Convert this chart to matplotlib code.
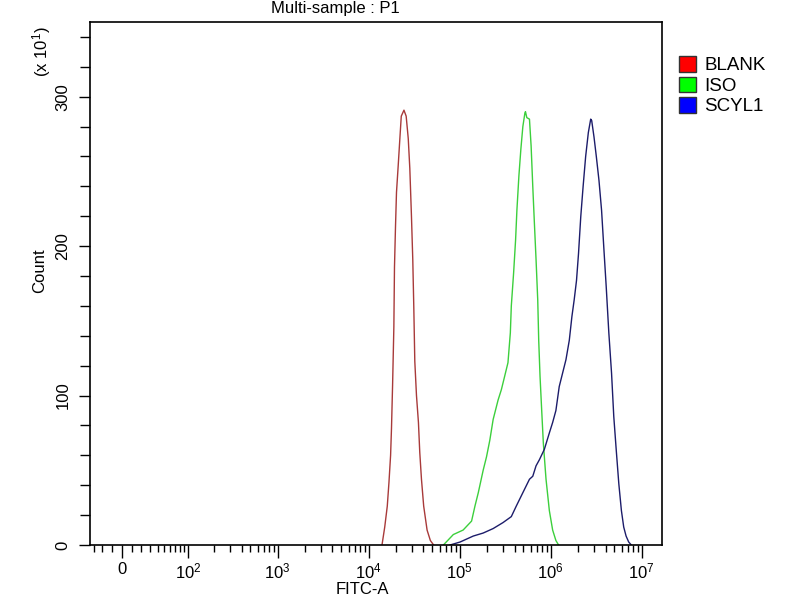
import numpy as np
import matplotlib
matplotlib.use("Agg")
import matplotlib.pyplot as plt
from matplotlib.patches import Patch
from matplotlib.ticker import FixedLocator, FixedFormatter

plt.rcParams["font.family"] = ["Liberation Sans", "DejaVu Sans"]
plt.rcParams["mathtext.fontset"] = "custom"
plt.rcParams["mathtext.rm"] = "Liberation Sans"

# histogram outlines (FITC-A value, count)
blank_x = [1.40e4, 1.50e4, 1.60e4, 1.67e4, 1.74e4, 1.78e4, 1.83e4, 1.89e4, 1.92e4,
           1.97e4, 2.02e4, 2.11e4, 2.20e4, 2.28e4, 2.44e4, 2.58e4, 2.72e4, 2.83e4,
           2.95e4, 3.05e4, 3.13e4, 3.21e4, 3.35e4, 3.52e4, 3.64e4, 3.80e4, 4.02e4,
           4.38e4, 4.76e4, 5.17e4]
blank_y = [0, 12, 26, 42, 60, 78, 107, 146, 186, 213, 236, 254, 272, 287, 291,
           287, 272, 252, 220, 191, 159, 123, 100, 82, 62, 44, 26, 10, 3, 0]

iso_x = [6.62e4, 8.51e4, 1.09e5, 1.35e5, 1.47e5, 1.60e5, 1.81e5, 1.97e5, 2.14e5,
         2.33e5, 2.64e5, 2.87e5, 3.12e5, 3.39e5, 3.60e5, 3.69e5, 3.91e5, 4.11e5,
         4.25e5, 4.47e5, 4.70e5, 4.94e5, 5.20e5, 5.28e5, 5.46e5, 5.84e5, 6.09e5,
         6.35e5, 6.62e5, 6.90e5, 7.20e5, 7.38e5, 7.63e5, 7.96e5, 8.30e5, 8.88e5,
         9.66e5, 1.05e6, 1.14e6, 1.22e6]
iso_y = [0, 7, 10, 16, 26, 35, 50, 59, 70, 84, 97, 104, 113, 122, 142, 160, 182,
         204, 224, 247, 265, 280, 289, 290, 286, 285, 267, 240, 215, 191, 164, 137,
         113, 90, 68, 44, 23, 10, 3, 0]

scyl1_x = [7.83e4, 1.01e5, 1.41e5, 1.81e5, 2.33e5, 2.99e5, 3.69e5, 4.18e5, 4.94e5,
           5.84e5, 6.35e5, 6.90e5, 7.50e5, 8.51e5, 9.66e5, 1.05e6, 1.14e6, 1.24e6,
           1.35e6, 1.47e6, 1.60e6, 1.71e6, 1.81e6, 1.92e6, 2.02e6, 2.14e6, 2.27e6,
           2.42e6, 2.59e6, 2.75e6, 2.82e6, 2.99e6, 3.17e6, 3.39e6, 3.62e6, 3.84e6,
           4.07e6, 4.35e6, 4.66e6, 4.93e6, 5.24e6, 5.60e6, 5.98e6, 6.34e6, 6.73e6,
           7.19e6, 7.69e6]
scyl1_y = [0, 2, 6, 8, 11, 15, 19, 26, 35, 44, 46, 53, 57, 64, 75, 82, 90, 106,
           115, 124, 137, 153, 164, 177, 195, 220, 240, 260, 276, 285, 284, 273,
           260, 244, 224, 198, 173, 142, 115, 86, 64, 41, 23, 12, 6, 2, 0]

labels = ["BLANK", "ISO", "SCYL1"]
line_colors = ["#a83a3a", "#3ccf3c", "#1c1c6a"]
box_colors = ["#ff0000", "#00ff00", "#0000ff"]

major_ticks = [0, 1e2, 1e3, 1e4, 1e5, 1e6, 1e7]
major_labels = ["0", r"$\mathregular{10^2}$", r"$\mathregular{10^3}$",
                r"$\mathregular{10^4}$", r"$\mathregular{10^5}$",
                r"$\mathregular{10^6}$", r"$\mathregular{10^7}$"]

W = 38.9


def fwd(x):
    return np.arcsinh(np.asarray(x) / W) / np.log(10)


def inv(y):
    return W * np.sinh(np.asarray(y) * np.log(10))


def main():
    fig = plt.figure(figsize=(8, 6), dpi=100)
    ax = fig.add_axes([90 / 800, 1 - 545 / 600, 572 / 800, 523 / 600])
    ax.set_xscale("function", functions=(fwd, inv))

    for xs, ys, c in zip([blank_x, iso_x, scyl1_x], [blank_y, iso_y, scyl1_y], line_colors):
        ax.plot(xs, ys, color=c, lw=1.0)

    ax.set_xlim(-35, 1.67e7)
    ax.set_ylim(0, 350)

    minor = [-30, -20, -10] + list(range(10, 100, 10))
    for dec in range(2, 7):
        minor += [k * 10 ** dec for k in range(2, 10)]
    ax.xaxis.set_major_locator(FixedLocator(major_ticks))
    ax.xaxis.set_major_formatter(FixedFormatter(major_labels))
    ax.xaxis.set_minor_locator(FixedLocator(minor))
    ax.yaxis.set_major_locator(FixedLocator([0, 100, 200, 300]))
    ax.yaxis.set_minor_locator(FixedLocator(list(range(20, 350, 20))))

    ax.tick_params(axis="x", which="major", direction="out", length=9, width=1,
                   labelsize=12, pad=3)
    ax.tick_params(axis="x", which="minor", direction="out", length=5, width=1)
    ax.tick_params(axis="y", which="major", direction="out", length=8, width=1,
                   labelsize=12, labelrotation=90, pad=6)
    ax.tick_params(axis="y", which="minor", direction="out", length=7, width=1)
    for lab in ax.get_yticklabels():
        lab.set_va("center")
    for s in ax.spines.values():
        s.set_linewidth(1.2)

    fig.text(335 / 800, 1 - 9 / 600, "Multi-sample : P1", ha="center", va="center",
             fontsize=12)
    fig.text(362 / 800, 1 - 590 / 600, "FITC-A", ha="center", va="center", fontsize=12)
    fig.text(40 / 800, 1 - 271 / 600, "Count", ha="center", va="center",
             rotation=90, fontsize=12)
    fig.text(42 / 800, 1 - 52 / 600, r"(x 10$\mathregular{^1}$)", ha="center",
             va="center", rotation=90, fontsize=12)

    handles = [Patch(facecolor=c, edgecolor="#333333", lw=1) for c in box_colors]
    fig.legend(handles, labels, loc="upper left", bbox_to_anchor=(679 / 800, 1 - 56 / 600),
               frameon=False, fontsize=13.5, handlelength=0.9, handleheight=0.9,
               handletextpad=0.45, labelspacing=0.12, borderpad=0, borderaxespad=0)

    fig.savefig("out.png", dpi=100)
    plt.close(fig)


if __name__ == "__main__":
    main()
